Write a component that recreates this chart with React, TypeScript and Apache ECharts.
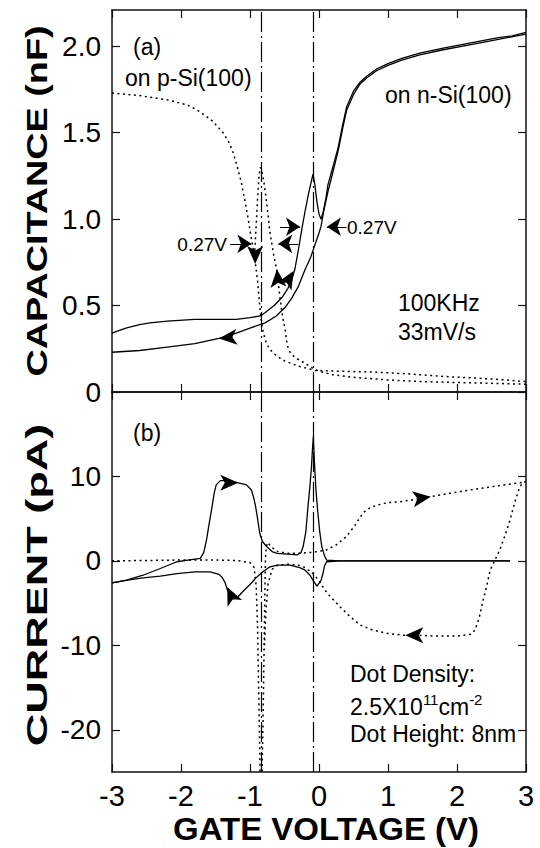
import React, { useEffect, useRef } from "react";
import * as echarts from "echarts";

const FONT = '"Liberation Sans", Arial, Helvetica, sans-serif';

// axes
const capTicks = [0, 0.5, 1.0, 1.5, 2.0];
const curTicks = [-20, -10, 0, 10];
const markerVolts = [-0.83, -0.09];

// (a) capacitance, n-Si, forward sweep (V increasing)
const nCapFwdV = [-3, -2.8, -2.6, -2.45, -2.2, -1.8, -1.45, -1.2, -1.0, -0.85, -0.78, -0.65, -0.53, -0.45, -0.4, -0.35, -0.3, -0.25, -0.2, -0.15, -0.11, -0.087, -0.06, -0.03, 0.0, 0.03, 0.06, 0.1, 0.13, 0.2, 0.28, 0.34, 0.4, 0.5, 0.59, 0.7, 0.84, 1.0, 1.2, 1.46, 1.8, 2.2, 2.6, 2.8, 3.0];
const nCapFwdC = [0.34, 0.37, 0.39, 0.40, 0.41, 0.42, 0.42, 0.42, 0.43, 0.44, 0.46, 0.50, 0.55, 0.60, 0.64, 0.71, 0.82, 0.94, 1.05, 1.15, 1.22, 1.26, 1.20, 1.10, 1.03, 1.00, 1.04, 1.12, 1.20, 1.30, 1.42, 1.54, 1.65, 1.74, 1.79, 1.83, 1.87, 1.90, 1.93, 1.96, 1.99, 2.02, 2.05, 2.06, 2.08];
// n-Si reverse sweep
const nCapRevV = [3.0, 2.6, 2.2, 1.8, 1.46, 1.2, 1.0, 0.84, 0.7, 0.59, 0.5, 0.4, 0.34, 0.28, 0.2, 0.13, 0.07, 0.03, 0.0, -0.06, -0.12, -0.2, -0.3, -0.4, -0.49, -0.62, -0.78, -1.0, -1.2, -1.45, -1.8, -2.2, -2.6, -3.0];
const nCapRevC = [2.07, 2.04, 2.01, 1.98, 1.95, 1.92, 1.89, 1.86, 1.82, 1.78, 1.72, 1.63, 1.52, 1.40, 1.27, 1.16, 1.05, 0.96, 0.92, 0.85, 0.78, 0.71, 0.61, 0.54, 0.49, 0.44, 0.40, 0.37, 0.34, 0.31, 0.28, 0.26, 0.24, 0.23];
// p-Si, sweep 1
const pCapFwdV = [-3, -2.6, -2.2, -1.9, -1.72, -1.55, -1.39, -1.3, -1.24, -1.19, -1.13, -1.08, -1.03, -0.99, -0.95, -0.92, -0.89, -0.87, -0.85, -0.82, -0.78, -0.72, -0.62, -0.5, -0.3, -0.06, 0.3, 0.8, 1.3, 1.8, 2.3, 2.7, 3.0];
const pCapFwdC = [1.73, 1.715, 1.69, 1.66, 1.62, 1.57, 1.50, 1.44, 1.38, 1.31, 1.22, 1.12, 1.01, 0.91, 0.82, 0.74, 0.64, 0.55, 0.46, 0.37, 0.30, 0.25, 0.21, 0.18, 0.15, 0.125, 0.12, 0.115, 0.105, 0.09, 0.08, 0.07, 0.06];
// p-Si, sweep 2
const pCapRevV = [3.0, 2.5, 2.0, 1.5, 1.0, 0.5, 0.2, 0.0, -0.1, -0.22, -0.35, -0.42, -0.46, -0.49, -0.53, -0.57, -0.61, -0.66, -0.71, -0.76, -0.80, -0.83, -0.85, -0.87, -0.89, -0.91, -0.93];
const pCapRevC = [0.045, 0.05, 0.055, 0.06, 0.07, 0.085, 0.10, 0.12, 0.14, 0.17, 0.20, 0.23, 0.27, 0.36, 0.44, 0.56, 0.70, 0.80, 0.92, 1.10, 1.22, 1.28, 1.30, 1.25, 1.12, 0.97, 0.82];

// (b) current, n-Si
const nCurFwdV = [-3, -2.8, -2.55, -2.3, -2.06, -1.9, -1.72, -1.67, -1.63, -1.59, -1.55, -1.52, -1.49, -1.43, -1.3, -1.2, -1.05, -0.98, -0.95, -0.92, -0.89, -0.86, -0.82, -0.76, -0.68, -0.61, -0.45, -0.32, -0.26, -0.23, -0.19, -0.16, -0.13, -0.11, -0.095, -0.082, -0.065, -0.045, -0.02, 0.01, 0.04, 0.08, 0.11, 0.3, 1.0, 2.0, 2.77];
const nCurFwdI = [-2.6, -2.3, -1.7, -0.9, -0.1, 0.1, 0.3, 1.0, 2.5, 4.5, 6.4, 8.0, 9.0, 9.5, 9.5, 9.3, 9.0, 8.4, 7.6, 6.5, 5.0, 3.3, 2.3, 1.7, 1.1, 0.9, 0.8, 0.7, 1.0, 1.7, 3.5, 6.4, 9.0, 11.0, 13.2, 14.7, 11.5, 8.5, 6.0, 3.5, 1.7, 0.6, 0.1, 0, 0, 0, 0];
const nCurRevV = [2.77, 2.0, 1.0, 0.3, 0.11, 0.08, 0.06, 0.03, -0.03, -0.08, -0.13, -0.2, -0.28, -0.42, -0.6, -0.71, -0.8, -0.9, -1.0, -1.1, -1.18, -1.24, -1.29, -1.33, -1.36, -1.4, -1.45, -1.58, -1.8, -2.06, -2.3, -2.55, -2.8, -3.0];
const nCurRevI = [0, 0, 0, 0, -0.1, -0.6, -1.4, -2.3, -3.0, -2.4, -1.7, -1.1, -0.8, -0.5, -0.5, -0.7, -1.2, -1.9, -2.8, -3.6, -4.3, -4.5, -4.2, -3.4, -2.6, -2.0, -1.6, -1.3, -1.3, -1.5, -1.8, -2.0, -2.3, -2.6];
// current, p-Si
const pCurFwdV = [-3, -2.5, -2.0, -1.5, -1.2, -1.0, -0.94, -0.91, -0.89, -0.875, -0.86, -0.85, -0.83, -0.81, -0.795, -0.785, -0.775, -0.76, -0.74, -0.7, -0.6, -0.45, -0.3, -0.1, 0.11, 0.25, 0.4, 0.52, 0.64, 0.74, 0.84, 1.0, 1.17, 1.4, 1.61, 1.9, 2.19, 2.6, 2.96, 3.0];
const pCurFwdI = [0, 0.05, 0.1, 0.1, 0.05, -0.2, -0.8, -3, -8, -15, -22, -27, -27, -18.5, -10, -4, 0.5, 1.8, 2.2, 1.7, 1.1, 0.9, 0.9, 1.0, 1.3, 1.9, 2.9, 4.2, 5.7, 6.3, 6.6, 6.9, 7.0, 7.3, 7.6, 8.0, 8.4, 8.9, 9.3, 9.4];
const pCurRevV = [3.0, 2.96, 2.91, 2.84, 2.77, 2.7, 2.62, 2.55, 2.48, 2.43, 2.38, 2.32, 2.26, 2.2, 2.0, 1.7, 1.4, 1.22, 1.0, 0.78, 0.6, 0.45, 0.3, 0.16, 0.1, 0.05, 0.0, -0.1, -0.2, -0.3, -0.45, -0.6, -0.68, -0.74, -0.77, -0.79];
const pCurRevI = [9.4, 9.3, 8.8, 7.0, 4.9, 3.1, 1.3, 0.1, -1.1, -3.0, -4.6, -6.8, -8.2, -8.7, -8.9, -8.9, -8.8, -8.8, -8.6, -8.2, -7.6, -6.6, -5.4, -4.2, -3.6, -3.0, -2.3, -1.4, -0.8, -0.5, -0.4, -0.5, -1.0, -2.8, -6, -10];

// sweep-direction arrowheads: [V, value, rotation deg]
const capArrows = [[-1.45, 0.31, 95], [-0.37, 0.70, -30], [-0.925, 0.74, 180], [-0.61, 0.71, 5]];
const curArrows = [[-1.17, 9.25, -90], [-1.33, -3.1, 25], [1.62, 7.6, -82], [1.25, -8.8, 90]];
// 0.27V annotation arrows: [fromV, toV, C]
const shiftArrows = [[-1.29, -0.98, 0.857], [-0.565, -0.275, 0.956], [-0.30, -0.59, 0.857], [0.40, 0.115, 0.956]];

const zip = (xs: number[], ys: number[]) => xs.map((x, i) => [x, ys[i]]);

const solid = { color: "#000", width: 1.3 };
const dotted = { color: "#000", width: 1.5, type: [2, 3.5] as any };

function frameX(gridIndex: number, position: "top" | "bottom", labels: boolean) {
  return {
    type: "value", gridIndex, position, min: -3, max: 3, interval: 1,
    axisLine: { show: true, onZero: false, lineStyle: { color: "#111", width: 1.5 } },
    axisTick: { show: true, inside: true, length: 8, lineStyle: { color: "#111", width: 1.2 } },
    axisLabel: { show: labels, fontSize: 29, color: "#000", fontFamily: FONT, margin: 9 },
    splitLine: { show: false },
  };
}
function frameY(gridIndex: number, position: "left" | "right", min: number, max: number, ticks: number[], labels: boolean, fmt?: (v: number) => string) {
  return {
    type: "value", gridIndex, position, min, max,
    axisLine: { show: true, onZero: false, lineStyle: { color: "#111", width: 1.5 } },
    axisTick: { show: true, inside: true, length: 8, customValues: ticks, lineStyle: { color: "#111", width: 1.2 } },
    axisLabel: { show: labels, customValues: ticks, fontSize: 28, color: "#000", fontFamily: FONT, margin: 11, formatter: fmt },
    splitLine: { show: false },
  };
}

const vMarks = {
  silent: true, symbol: ["none", "none"], label: { show: false },
  lineStyle: { color: "#000", width: 1.2, type: [20, 4, 2, 4] },
  data: markerVolts.map((v) => ({ xAxis: v })),
};

function lineSeries(data: number[][], xi: number, yi: number, style: any, extra: any = {}) {
  return { type: "line", xAxisIndex: xi, yAxisIndex: yi, data, showSymbol: false, symbol: "none", lineStyle: style, silent: true, ...extra };
}
function arrowSeries(arr: number[][], xi: number, yi: number) {
  return {
    type: "scatter", xAxisIndex: xi, yAxisIndex: yi, symbol: "arrow", symbolSize: [12, 18], silent: true,
    itemStyle: { color: "#000", opacity: 1 },
    data: arr.map((a) => ({ value: [a[0], a[1]], symbolRotate: a[2] })),
  };
}

const txt = (x: number, y: number, text: string, fontSize: number, extra: any = {}) => ({
  type: "text", x, y,
  style: { text, fontSize, fontFamily: FONT, fill: "#000", verticalAlign: "middle", align: "left", ...extra },
});

export default function App() {
  const ref = useRef<HTMLDivElement>(null);
  useEffect(() => {
    const chart = echarts.init(ref.current!, null, { renderer: "svg" });
    chart.setOption({
      animation: false,
      backgroundColor: "#fff",
      grid: [
        { left: 112, top: 10, width: 414, height: 382 },
        { left: 112, top: 392, width: 414, height: 380 },
      ],
      xAxis: [frameX(0, "bottom", false), frameX(0, "top", false), frameX(1, "bottom", true), frameX(1, "top", false)],
      yAxis: [
        frameY(0, "left", 0, 2.21, capTicks, true, (v: number) => (v === 0 ? "0" : v.toFixed(1))),
        frameY(0, "right", 0, 2.21, capTicks, false),
        frameY(1, "left", -25, 20, curTicks, true, (v: number) => String(v)),
        frameY(1, "right", -25, 20, curTicks, false),
      ],
      series: [
        lineSeries(zip(nCapFwdV, nCapFwdC), 0, 0, solid, { markLine: vMarks }),
        lineSeries(zip(nCapRevV, nCapRevC), 0, 0, solid),
        lineSeries(zip(pCapFwdV, pCapFwdC), 0, 0, dotted),
        lineSeries(zip(pCapRevV, pCapRevC), 0, 0, dotted),
        arrowSeries(capArrows, 0, 0),
        {
          type: "lines", coordinateSystem: "cartesian2d", xAxisIndex: 0, yAxisIndex: 0, silent: true,
          symbol: ["none", "arrow"], symbolSize: [0, 14],
          lineStyle: { color: "#000", width: 1.2, opacity: 1, curveness: 0 },
          data: shiftArrows.map((a) => ({ coords: [[a[0], a[2]], [a[1], a[2]]] })),
        },
        lineSeries(zip(nCurFwdV, nCurFwdI), 2, 2, solid, { markLine: vMarks }),
        lineSeries(zip(nCurRevV, nCurRevI), 2, 2, solid),
        lineSeries(zip(pCurFwdV, pCurFwdI), 2, 2, dotted),
        lineSeries(zip(pCurRevV, pCurRevI), 2, 2, dotted),
        arrowSeries(curArrows, 2, 2),
      ],
      graphic: [
        {
          type: "text", x: 36, y: 201, rotation: Math.PI / 2, scaleX: 1.26,
          style: { text: "CAPACITANCE (nF)", fontSize: 30, fontWeight: "bold", fontFamily: FONT, fill: "#000", align: "center", verticalAlign: "middle" },
        },
        {
          type: "text", x: 36, y: 585, rotation: Math.PI / 2, scaleX: 1.5,
          style: { text: "CURRENT (pA)", fontSize: 30, fontWeight: "bold", fontFamily: FONT, fill: "#000", align: "center", verticalAlign: "middle" },
        },
        {
          type: "text", x: 326, y: 829, scaleX: 1.1, scaleY: 1.05,
          style: { text: "GATE VOLTAGE (V)", fontSize: 30, fontWeight: "bold", fontFamily: FONT, fill: "#000", align: "center", verticalAlign: "middle" },
        },
        txt(133, 47, "(a)", 23),
        txt(125, 78, "on p-Si(100)", 23),
        txt(385, 95, "on n-Si(100)", 23),
        txt(227, 244, "0.27V", 19, { align: "right" }),
        txt(347, 227, "0.27V", 19),
        txt(398, 303, "100KHz", 23),
        txt(398, 332, "33mV/s", 23),
        txt(133, 433, "(b)", 23),
        txt(350, 674, "Dot Density:", 23),
        {
          type: "text", x: 350, y: 705,
          style: {
            text: "{n|2.5X10}{s|11}{n|cm}{s|-2}", fontSize: 23, fontFamily: FONT, fill: "#000", verticalAlign: "middle", align: "left",
            rich: {
              n: { fontSize: 23, fontFamily: FONT, fill: "#000", lineHeight: 26, verticalAlign: "bottom" },
              s: { fontSize: 15, fontFamily: FONT, fill: "#000", lineHeight: 26, verticalAlign: "top" },
            },
          },
        },
        txt(350, 734, "Dot Height: 8nm", 23),
      ],
    });
    return () => chart.dispose();
  }, []);
  return <div ref={ref} style={{ position: "absolute", left: 0, top: 0, width: 540, height: 848 }} />;
}
